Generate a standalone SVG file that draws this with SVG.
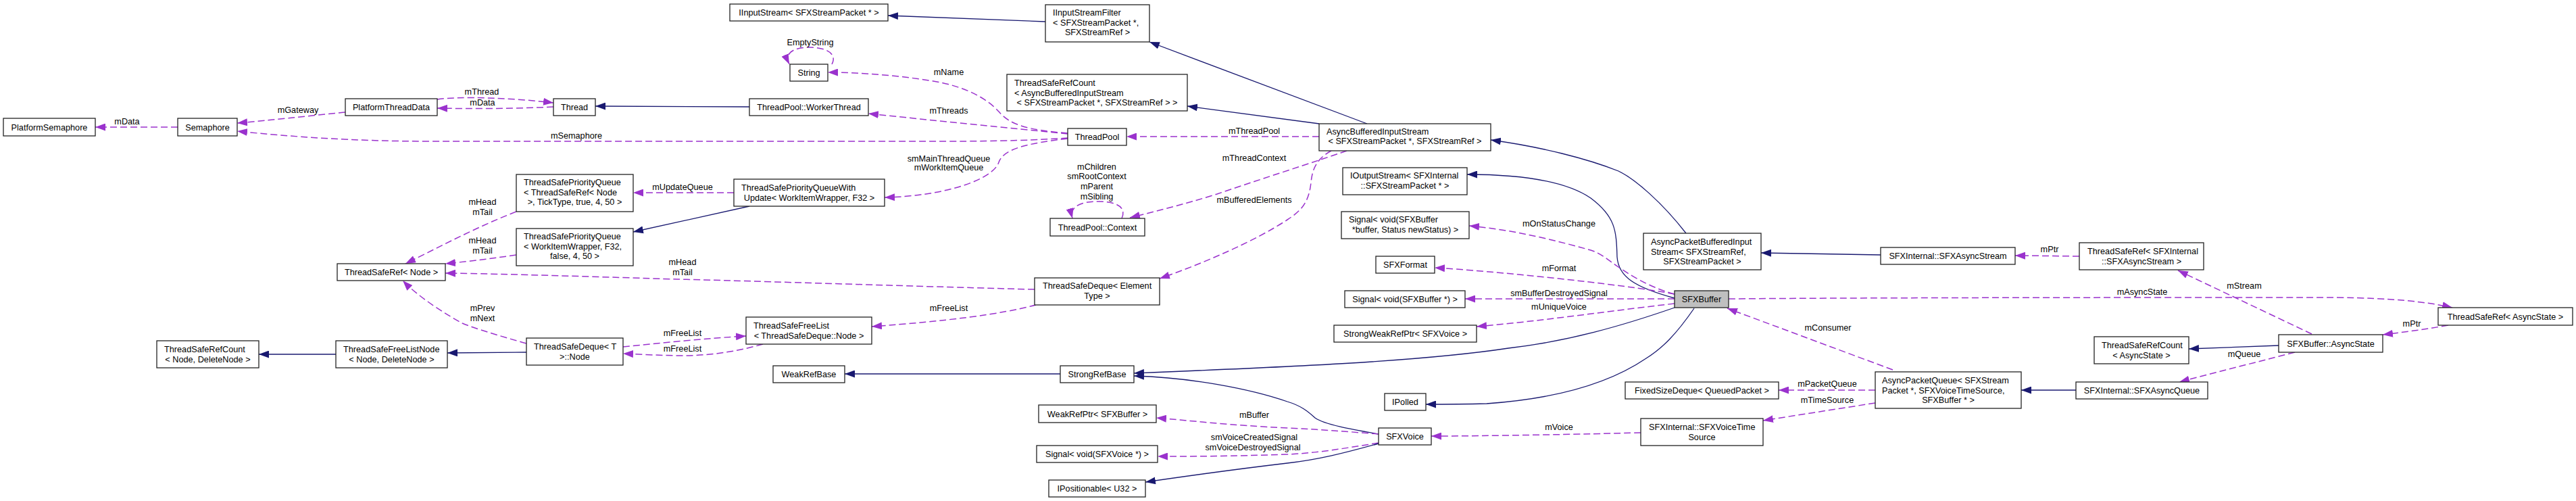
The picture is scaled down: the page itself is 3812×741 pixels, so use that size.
<svg xmlns="http://www.w3.org/2000/svg" width="3812" height="741" viewBox="0 0 3812 741">
<style>
rect{fill:#fff;stroke:#222;stroke-width:1.3}
rect.hl{fill:#bfbfbf}
text{font-family:"Liberation Sans",Arial,sans-serif;font-size:12.7px;fill:#000}
.c{text-anchor:middle}
#edges path{fill:none}
.inh{stroke:#191970;stroke-width:1.3;marker-end:url(#an)}
.col{stroke:#9a32cd;stroke-width:1.5;stroke-dasharray:10,5;marker-end:url(#ap)}
</style>
<defs>
<marker id="an" markerWidth="15" markerHeight="11" refX="15" refY="5.5" orient="auto" markerUnits="userSpaceOnUse"><path d="M0,0 L15,5.5 L0,11 z" fill="#191970"/></marker>
<marker id="ap" markerWidth="15" markerHeight="11" refX="15" refY="5.5" orient="auto" markerUnits="userSpaceOnUse"><path d="M0,0 L15,5.5 L0,11 z" fill="#9a32cd"/></marker>
</defs>
<rect x="0" y="0" width="3812" height="741" style="fill:#fff;stroke:none"/>
<g id="edges">
<path class="col" d="M263,188 L141,188"/>
<path class="col" d="M511,166 C450,172 400,178 351,182"/>
<path class="col" d="M1580,204 C1540,207 1480,209 1400,209 L640,209 C520,209 430,202 351,194"/>
<path class="col" d="M647,147 C680,142 760,145 819,152"/>
<path class="col" d="M819,158 C760,161 700,161 647,160"/>
<path class="inh" d="M1109,158 L881,157"/>
<path class="inh" d="M1547,32 L1314,23"/>
<path class="inh" d="M2023,183 L1701,62"/>
<path class="inh" d="M1952,183 L1757,157"/>
<path class="col" d="M1952,202 L1667,202"/>
<path class="col" d="M1580,197 C1520,192 1495,185 1478,165 C1460,145 1430,130 1392,122 C1340,112 1270,107 1225,107"/>
<path class="col" d="M1580,198 C1500,190 1380,178 1285,168"/>
<path class="col" d="M1580,205 C1520,212 1485,220 1478,240 C1470,265 1400,290 1309,292"/>
<path class="col" d="M1660,323 C1668,305 1650,298 1625,298 C1600,298 1582,305 1587,323"/>
<path class="col" d="M1993,223 C1950,238 1850,270 1801,287 C1750,303 1700,315 1672,322"/>
<path class="col" d="M1970,223 C1948,235 1942,250 1940,270 C1937,300 1925,312 1905,325 C1860,355 1780,390 1716,412"/>
<path class="col" d="M1231,95 C1240,78 1220,70 1198,70 C1175,70 1160,78 1168,95"/>
<path class="col" d="M1086,285 L937,285"/>
<path class="inh" d="M1109,305 L937,343"/>
<path class="col" d="M764,313 C720,330 680,350 640,370 C620,380 610,385 600,390"/>
<path class="col" d="M764,377 C730,382 700,386 659,390"/>
<path class="col" d="M1531,428 C1400,425 1100,415 1002,413 C900,410 750,405 659,404"/>
<path class="col" d="M779,508 C740,497 700,485 684,478 C660,465 620,440 596,415"/>
<path class="inh" d="M497,524 L383,524"/>
<path class="inh" d="M779,521 L662,522"/>
<path class="col" d="M922,513 C980,507 1050,500 1104,497"/>
<path class="col" d="M1129,509 C1090,520 1050,526 1010,526 C980,526 950,524 922,523"/>
<path class="col" d="M1533,451 C1480,465 1400,475 1290,483"/>
<path class="inh" d="M1569,553 L1250,553"/>
<path class="inh" d="M2478,455 C2400,482 2320,505 2232,515 C2100,535 1900,543 1678,552"/>
<path class="inh" d="M2040,642 C2000,635 1960,628 1946,618 C1935,608 1925,600 1905,594 C1850,575 1760,558 1678,556"/>
<path class="col" d="M2040,642 C1990,638 1950,635 1905,633 C1820,629 1760,622 1711,618"/>
<path class="col" d="M2040,655 C1990,663 1950,670 1905,672 C1820,675 1760,675 1713,675"/>
<path class="inh" d="M2040,656 C1990,670 1950,680 1905,685 C1820,695 1750,705 1695,713"/>
<path class="inh" d="M2495,345 C2460,300 2420,265 2395,253 C2350,235 2280,217 2206,207"/>
<path class="inh" d="M2478,441 C2420,425 2395,410 2393,380 C2392,340 2390,320 2354,293 C2320,270 2260,258 2171,258"/>
<path class="col" d="M2478,435 C2440,425 2410,405 2395,395 C2380,385 2370,375 2354,370 C2300,355 2240,340 2174,334"/>
<path class="col" d="M2478,435 C2400,420 2200,400 2123,396"/>
<path class="col" d="M2478,442 L2168,442"/>
<path class="col" d="M2478,449 C2380,460 2280,475 2185,483"/>
<path class="inh" d="M2507,456 C2480,495 2460,515 2436,530 C2380,568 2300,590 2200,597 C2160,598 2130,598 2110,598"/>
<path class="col" d="M2775,577 L2632,577"/>
<path class="col" d="M2775,596 L2609,622"/>
<path class="col" d="M2428,640 C2350,642 2200,645 2118,645"/>
<path class="col" d="M2801,547 L2556,456"/>
<path class="col" d="M2558,442 C2800,440 3200,440 3458,440 C3540,441 3590,446 3629,455"/>
<path class="inh" d="M2783,377 L2606,374"/>
<path class="col" d="M3077,379 L2982,378"/>
<path class="inh" d="M3072,577 L2991,577"/>
<path class="col" d="M3623,481 C3590,487 3560,491 3526,495"/>
<path class="col" d="M3421,494 L3223,400"/>
<path class="inh" d="M3372,511 L3239,516"/>
<path class="col" d="M3396,521 C3330,538 3270,553 3225,565"/>
</g>
<g id="labels">
<text class="c" x="188" y="184">mData</text>
<text class="c" x="441" y="167">mGateway</text>
<text class="c" x="853" y="205">mSemaphore</text>
<text class="c" x="713" y="140">mThread</text>
<text class="c" x="714" y="156">mData</text>
<text class="c" x="1856" y="198">mThreadPool</text>
<text class="c" x="1404" y="111">mName</text>
<text class="c" x="1404" y="168">mThreads</text>
<text class="c" x="1404" y="239">smMainThreadQueue</text>
<text class="c" x="1404" y="252">mWorkItemQueue</text>
<text class="c" x="1623" y="251">mChildren</text>
<text class="c" x="1623" y="265">smRootContext</text>
<text class="c" x="1623" y="280">mParent</text>
<text class="c" x="1623" y="295">mSibling</text>
<text class="c" x="1856" y="238">mThreadContext</text>
<text class="c" x="1856" y="300">mBufferedElements</text>
<text class="c" x="1199" y="67">EmptyString</text>
<text class="c" x="1010" y="281">mUpdateQueue</text>
<text class="c" x="714" y="303">mHead</text>
<text class="c" x="714" y="318">mTail</text>
<text class="c" x="714" y="360">mHead</text>
<text class="c" x="714" y="375">mTail</text>
<text class="c" x="1010" y="392">mHead</text>
<text class="c" x="1010" y="407">mTail</text>
<text class="c" x="714" y="460">mPrev</text>
<text class="c" x="714" y="475">mNext</text>
<text class="c" x="1010" y="497">mFreeList</text>
<text class="c" x="1010" y="520">mFreeList</text>
<text class="c" x="1404" y="460">mFreeList</text>
<text class="c" x="1856" y="618">mBuffer</text>
<text class="c" x="1856" y="651">smVoiceCreatedSignal</text>
<text class="c" x="1854" y="666">smVoiceDestroyedSignal</text>
<text class="c" x="2307" y="335">mOnStatusChange</text>
<text class="c" x="2307" y="401">mFormat</text>
<text class="c" x="2307" y="438">smBufferDestroyedSignal</text>
<text class="c" x="2307" y="458">mUniqueVoice</text>
<text class="c" x="2704" y="572">mPacketQueue</text>
<text class="c" x="2704" y="596">mTimeSource</text>
<text class="c" x="2307" y="636">mVoice</text>
<text class="c" x="2705" y="489">mConsumer</text>
<text class="c" x="3170" y="436">mAsyncState</text>
<text class="c" x="3033" y="373">mPtr</text>
<text class="c" x="3569" y="483">mPtr</text>
<text class="c" x="3321" y="427">mStream</text>
<text class="c" x="3321" y="528">mQueue</text>
</g>
<g id="n1"><rect x="5" y="175" width="136" height="26"/><text class="c" x="73" y="192.5">PlatformSemaphore</text></g>
<g id="n2"><rect x="263" y="175" width="88" height="26"/><text class="c" x="307" y="192.5">Semaphore</text></g>
<g id="n3"><rect x="511" y="146" width="136" height="25"/><text class="c" x="579" y="163">PlatformThreadData</text></g>
<g id="n4"><rect x="819" y="146" width="62" height="25"/><text class="c" x="850" y="163">Thread</text></g>
<g id="n5"><rect x="1109" y="146" width="176" height="25"/><text class="c" x="1197" y="163">ThreadPool::WorkerThread</text></g>
<g id="n6"><rect x="1080" y="6" width="234" height="25"/><text class="c" x="1197" y="23">IInputStream&lt; SFXStreamPacket * &gt;</text></g>
<g id="n7"><rect x="1547" y="7" width="154" height="55"/><text x="1558" y="22.5">IInputStreamFilter</text><text x="1558" y="37.5">&lt; SFXStreamPacket *,</text><text class="c" x="1624" y="52">SFXStreamRef &gt;</text></g>
<g id="n8"><rect x="1169" y="95" width="56" height="25"/><text class="c" x="1197" y="112">String</text></g>
<g id="n9"><rect x="1490" y="110" width="267" height="54"/><text x="1501" y="126.5">ThreadSafeRefCount</text><text x="1501" y="141.5">&lt; AsyncBufferedInputStream</text><text class="c" x="1623.5" y="155.5">&lt; SFXStreamPacket *, SFXStreamRef &gt; &gt;</text></g>
<g id="n10"><rect x="1580" y="190" width="87" height="25"/><text class="c" x="1623.5" y="207">ThreadPool</text></g>
<g id="n11"><rect x="1554" y="323" width="140" height="26"/><text class="c" x="1624" y="340.5">ThreadPool::Context</text></g>
<g id="n12"><rect x="1952" y="183" width="254" height="40"/><text x="1963" y="198.5">AsyncBufferedInputStream</text><text class="c" x="2079" y="213">&lt; SFXStreamPacket *, SFXStreamRef &gt;</text></g>
<g id="n13"><rect x="764" y="258" width="173" height="55"/><text x="775" y="273.5">ThreadSafePriorityQueue</text><text x="775" y="288.5">&lt; ThreadSafeRef&lt; Node</text><text class="c" x="850.5" y="302.5"> &gt;, TickType, true, 4, 50 &gt;</text></g>
<g id="n14"><rect x="1086" y="265" width="223" height="40"/><text x="1097" y="281.5">ThreadSafePriorityQueueWith</text><text class="c" x="1197.5" y="296.5">Update&lt; WorkItemWrapper, F32 &gt;</text></g>
<g id="n15"><rect x="764" y="338" width="173" height="55"/><text x="775" y="353.5">ThreadSafePriorityQueue</text><text x="775" y="368.5">&lt; WorkItemWrapper, F32,</text><text class="c" x="850.5" y="382.5">false, 4, 50 &gt;</text></g>
<g id="n16"><rect x="499" y="390" width="160" height="25"/><text class="c" x="579" y="407">ThreadSafeRef&lt; Node &gt;</text></g>
<g id="n17"><rect x="232" y="504" width="151" height="40"/><text x="243" y="520.5">ThreadSafeRefCount</text><text class="c" x="307.5" y="535.5">&lt; Node, DeleteNode &gt;</text></g>
<g id="n18"><rect x="497" y="504" width="165" height="40"/><text x="508" y="520.5">ThreadSafeFreeListNode</text><text class="c" x="579.5" y="535.5">&lt; Node, DeleteNode &gt;</text></g>
<g id="n19"><rect x="779" y="500" width="143" height="40"/><text x="790" y="516.5">ThreadSafeDeque&lt; T</text><text class="c" x="850.5" y="531.5">&gt;::Node</text></g>
<g id="n20"><rect x="1104" y="469" width="186" height="40"/><text x="1115" y="485.5">ThreadSafeFreeList</text><text class="c" x="1197" y="500.5">&lt; ThreadSafeDeque::Node &gt;</text></g>
<g id="n21"><rect x="1144" y="541" width="106" height="25"/><text class="c" x="1197" y="558">WeakRefBase</text></g>
<g id="n22"><rect x="1531" y="411" width="185" height="40"/><text x="1543" y="427">ThreadSafeDeque&lt; Element</text><text class="c" x="1623.5" y="442">Type &gt;</text></g>
<g id="n23"><rect x="1569" y="541" width="109" height="25"/><text class="c" x="1623.5" y="558">StrongRefBase</text></g>
<g id="n24"><rect x="1537" y="599" width="174" height="26"/><text class="c" x="1624" y="616.5">WeakRefPtr&lt; SFXBuffer &gt;</text></g>
<g id="n25"><rect x="1534" y="659" width="179" height="25"/><text class="c" x="1623.5" y="676">Signal&lt; void(SFXVoice *) &gt;</text></g>
<g id="n26"><rect x="1552" y="710" width="143" height="25"/><text class="c" x="1623.5" y="727">IPositionable&lt; U32 &gt;</text></g>
<g id="n27"><rect x="1987" y="248" width="184" height="40"/><text x="1998" y="263.5">IOutputStream&lt; SFXInternal</text><text class="c" x="2079" y="278.5">::SFXStreamPacket * &gt;</text></g>
<g id="n28"><rect x="1985" y="313" width="189" height="40"/><text x="1996" y="328.5">Signal&lt; void(SFXBuffer</text><text class="c" x="2079.5" y="343.5">*buffer, Status newStatus) &gt;</text></g>
<g id="n29"><rect x="2036" y="379" width="87" height="25"/><text class="c" x="2079.5" y="396">SFXFormat</text></g>
<g id="n30"><rect x="1990" y="430" width="178" height="25"/><text class="c" x="2079" y="447">Signal&lt; void(SFXBuffer *) &gt;</text></g>
<g id="n31"><rect x="1974" y="481" width="211" height="25"/><text class="c" x="2079.5" y="498">StrongWeakRefPtr&lt; SFXVoice &gt;</text></g>
<g id="n32"><rect x="2049" y="582" width="61" height="25"/><text class="c" x="2079.5" y="599">IPolled</text></g>
<g id="n33"><rect x="2040" y="633" width="78" height="25"/><text class="c" x="2079" y="650">SFXVoice</text></g>
<g id="n34"><rect class="hl" x="2478" y="430" width="80" height="25"/><text class="c" x="2518" y="447">SFXBuffer</text></g>
<g id="n35"><rect x="2432" y="345" width="174" height="54"/><text x="2443" y="361.5">AsyncPacketBufferedInput</text><text x="2443" y="376.5">Stream&lt; SFXStreamRef,</text><text class="c" x="2519" y="390.5">SFXStreamPacket &gt;</text></g>
<g id="n36"><rect x="2405" y="565" width="227" height="25"/><text class="c" x="2518.5" y="582">FixedSizeDeque&lt; QueuedPacket &gt;</text></g>
<g id="n37"><rect x="2428" y="619" width="181" height="40"/><text x="2440" y="635.5">SFXInternal::SFXVoiceTime</text><text class="c" x="2518.5" y="650.5">Source</text></g>
<g id="n38"><rect x="2775" y="550" width="216" height="54"/><text x="2785" y="566.5">AsyncPacketQueue&lt; SFXStream</text><text x="2785" y="581.5">Packet *, SFXVoiceTimeSource,</text><text class="c" x="2883" y="595.5">SFXBuffer * &gt;</text></g>
<g id="n39"><rect x="2783" y="366" width="199" height="25"/><text class="c" x="2882.5" y="383">SFXInternal::SFXAsyncStream</text></g>
<g id="n40"><rect x="3077" y="359" width="184" height="40"/><text x="3089" y="375.5">ThreadSafeRef&lt; SFXInternal</text><text class="c" x="3169" y="390.5">::SFXAsyncStream &gt;</text></g>
<g id="n41"><rect x="3099" y="498" width="140" height="40"/><text x="3110" y="514.5">ThreadSafeRefCount</text><text class="c" x="3169" y="529.5">&lt; AsyncState &gt;</text></g>
<g id="n42"><rect x="3072" y="565" width="195" height="25"/><text class="c" x="3169.5" y="582">SFXInternal::SFXAsyncQueue</text></g>
<g id="n43"><rect x="3608" y="455" width="199" height="26"/><text class="c" x="3707.5" y="472.5">ThreadSafeRef&lt; AsyncState &gt;</text></g>
<g id="n44"><rect x="3372" y="495" width="154" height="26"/><text class="c" x="3449" y="512.5">SFXBuffer::AsyncState</text></g>
</svg>
